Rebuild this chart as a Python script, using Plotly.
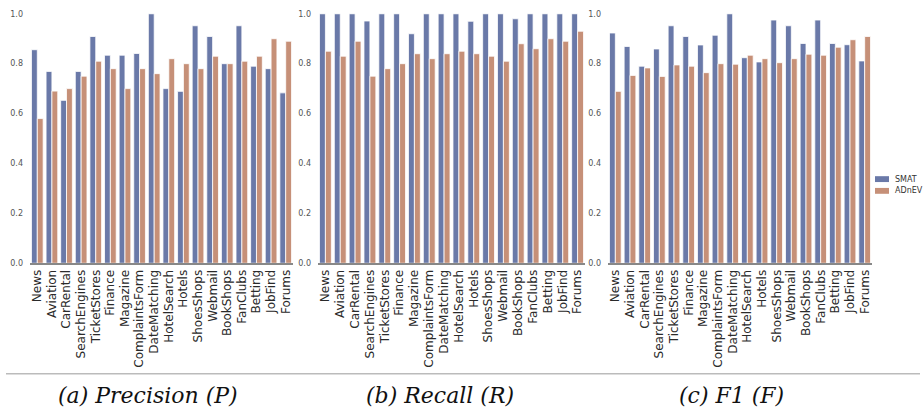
import plotly.graph_objects as go

categories = ["News", "Aviation", "CarRental", "SearchEngines", "TicketStores", "Finance",
              "Magazine", "ComplaintsForm", "DateMatching", "HotelSearch", "Hotels",
              "ShoesShops", "Webmail", "BookShops", "FanClubs", "Betting", "JobFind", "Forums"]

precision_smat = [0.856, 0.769, 0.653, 0.769, 0.909, 0.834, 0.834, 0.841, 1.0, 0.70, 0.689,
                  0.952, 0.909, 0.80, 0.952, 0.79, 0.78, 0.683]
precision_adnev = [0.58, 0.69, 0.70, 0.75, 0.81, 0.78, 0.70, 0.78, 0.76, 0.82, 0.80,
                   0.78, 0.83, 0.80, 0.81, 0.83, 0.90, 0.89]

recall_smat = [1.0, 1.0, 1.0, 0.971, 1.0, 1.0, 0.92, 1.0, 1.0, 1.0, 0.97,
               1.0, 1.0, 0.98, 1.0, 1.0, 1.0, 1.0]
recall_adnev = [0.85, 0.83, 0.89, 0.75, 0.78, 0.80, 0.84, 0.82, 0.84, 0.85, 0.84,
                0.83, 0.81, 0.88, 0.86, 0.90, 0.89, 0.93]

f1_smat = [0.923, 0.869, 0.79, 0.859, 0.952, 0.909, 0.875, 0.914, 1.0, 0.824, 0.807,
           0.975, 0.952, 0.881, 0.975, 0.881, 0.876, 0.811]
f1_adnev = [0.689, 0.753, 0.783, 0.749, 0.795, 0.79, 0.764, 0.80, 0.798, 0.834, 0.82,
            0.804, 0.82, 0.838, 0.834, 0.866, 0.896, 0.909]

series_names = ["SMAT", "ADnEV"]
captions = ["(a) Precision (P)", "(b) Recall (R)", "(c) F1 (F)"]
y_ticks = [0.0, 0.2, 0.4, 0.6, 0.8, 1.0]

BLUE = "#6a79a8"
ORANGE = "#c69078"
COLORS = [BLUE, ORANGE]
W, H = 923, 415

panels = [(precision_smat, precision_adnev), (recall_smat, recall_adnev), (f1_smat, f1_adnev)]
x_domains_px = [(30, 293), (318, 585), (608, 872)]
caption_cx = [148, 440, 731]

fig = go.Figure()
for i, (s, a) in enumerate(panels):
    xa = "x" if i == 0 else f"x{i+1}"
    ya = "y" if i == 0 else f"y{i+1}"
    for name, vals, col in zip(series_names, (s, a), COLORS):
        fig.add_trace(go.Bar(x=categories, y=vals, name=name, marker_color=col,
                             marker_line_color="white", marker_line_width=0.8,
                             xaxis=xa, yaxis=ya, showlegend=False))

y_dom = [(H - 265) / H, (H - 10) / H]
layout = dict(
    width=W, height=H, margin=dict(l=0, r=0, t=0, b=0),
    paper_bgcolor="white", plot_bgcolor="white",
    barmode="group", bargap=0.2, bargroupgap=0,
    font=dict(family="DejaVu Sans", color="#333"),
    showlegend=False,
)
for i in range(3):
    sx = "" if i == 0 else str(i + 1)
    x0, x1 = x_domains_px[i]
    layout[f"xaxis{sx}"] = dict(
        domain=[x0 / W, x1 / W], anchor=f"y{sx}", type="category",
        tickmode="array", tickvals=categories, ticktext=categories,
        tickangle=-90, tickfont=dict(size=12, color="#2a2a2a"),
        showline=True, linecolor="#888", linewidth=1.5,
        showgrid=False, ticks="", zeroline=False,
        range=[-0.5, len(categories) - 0.5],
    )
    layout[f"yaxis{sx}"] = dict(
        domain=y_dom, anchor=f"x{sx}", range=[0, 1.0],
        tickvals=y_ticks, ticktext=[f"{v:.1f}" for v in y_ticks],
        tickfont=dict(size=8, color="#555"),
        showgrid=False, zeroline=False, showline=False, ticks="",
        ticklabelstandoff=6,
    )
fig.update_layout(**layout)

# separator line
fig.add_shape(type="line", xref="paper", yref="paper",
              x0=6 / W, x1=920 / W, y0=(H - 378) / H, y1=(H - 378) / H,
              line=dict(color="#bbbbbb", width=1.5))

# manual legend
legend_rows_px = [179, 191]
for name, col, cy in zip(series_names, COLORS, legend_rows_px):
    fig.add_shape(type="rect", xref="paper", yref="paper",
                  x0=875 / W, x1=889 / W, y0=(H - cy - 3) / H, y1=(H - cy + 3) / H,
                  fillcolor=col, line=dict(width=0))
    fig.add_annotation(x=893 / W, y=(H - cy) / H, xref="paper", yref="paper",
                       text=name, showarrow=False, xanchor="left", yanchor="middle",
                       font=dict(size=8, color="#333"))

for cx, cap in zip(caption_cx, captions):
    fig.add_annotation(x=cx / W, y=(H - 400) / H, xref="paper", yref="paper",
                       text=f"<i>{cap}</i>", showarrow=False,
                       xanchor="center", yanchor="middle",
                       font=dict(family="DejaVu Serif", size=22, color="#111"))

fig.write_html("out.html",
               config={"displayModeBar": False},
               post_script="document.body.style.margin='0';document.body.style.overflow='hidden';")
